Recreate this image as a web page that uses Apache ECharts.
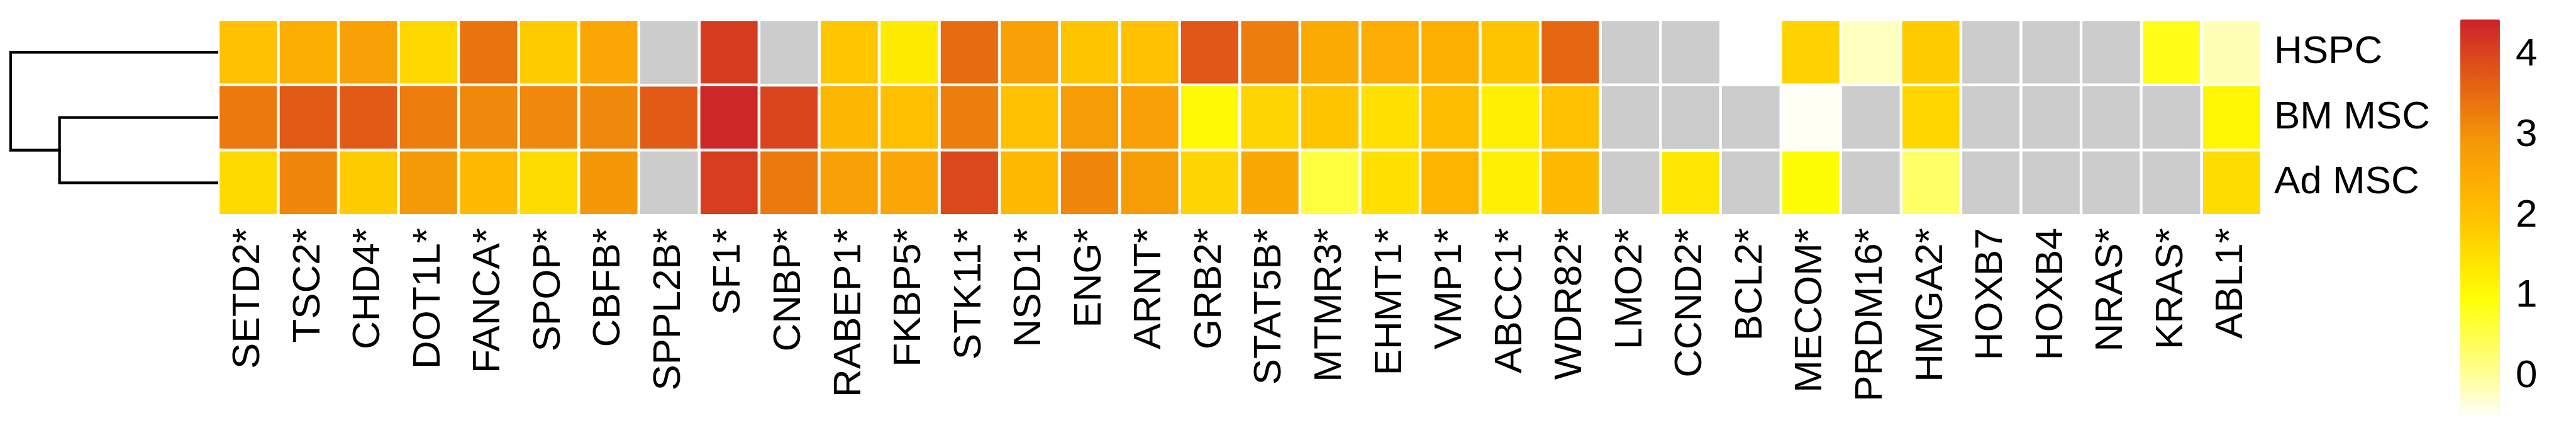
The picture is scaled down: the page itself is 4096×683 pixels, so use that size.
<!DOCTYPE html>
<html><head><meta charset="utf-8">
<script src="https://cdn.jsdelivr.net/npm/echarts@6/dist/echarts.min.js"></script>
<style>html,body{margin:0;padding:0;background:#fff}#chart{width:4096px;height:683px}</style>
</head><body><div id="chart"></div>
<script>
// ---- data ----
const genes = ['SETD2*','TSC2*','CHD4*','DOT1L*','FANCA*','SPOP*','CBFB*','SPPL2B*','SF1*','CNBP*','RABEP1*','FKBP5*','STK11*','NSD1*','ENG*','ARNT*','GRB2*','STAT5B*','MTMR3*','EHMT1*','VMP1*','ABCC1*','WDR82*','LMO2*','CCND2*','BCL2*','MECOM*','PRDM16*','HMGA2*','HOXB7','HOXB4','NRAS*','KRAS*','ABL1*'];
const samples = ['HSPC','BM MSC','Ad MSC'];
// null = not available (grey cell)
const valuesHSPC = [2.0,2.41,2.73,1.62,3.41,1.81,2.59,null,4.12,null,1.9,1.3,3.51,2.73,1.94,2.0,3.77,3.28,2.5,2.45,2.36,1.94,3.56,null,null,-0.53,1.71,-0.2,1.81,null,null,null,0.83,-0.15];
const valuesBM   = [3.33,3.74,3.74,3.28,3.13,3.13,3.13,3.74,4.38,4.0,2.23,2.05,3.28,2.0,2.82,2.73,1.06,1.68,1.94,1.49,2.09,1.24,2.0,null,null,null,-0.47,null,1.65,null,null,null,null,1.11];
const valuesAd   = [1.59,3.15,1.81,2.86,2.18,1.56,2.9,null,4.1,3.33,2.73,2.59,3.97,2.18,3.15,2.8,1.68,2.55,0.58,1.49,2.27,1.21,2.18,null,1.37,null,1.0,null,0.33,null,null,null,null,1.56];
const colorbarTicks = [0,1,2,3,4];
const colorRange = [-0.53, 4.44];
const palette = ['#FFFFFF','#FFFF9F','#FFFF52','#FFFF06','#FFE200','#FFC300','#FCAC02','#F49608','#E9700F','#DC4A1B','#CC2229'];
// row dendrogram: merges of [leaf/node a, leaf/node b, height]
const dendroMerges = [[1, 2, 0.763], [0, 'n0', 1.0]];
const naColor = '#CCCCCC';

// ---- build ----
const S = 0.758;
const rows = [valuesHSPC, valuesBM, valuesAd];
const heatData = [], naData = [];
rows.forEach((arr, r) => arr.forEach((v, c) => {
  if (v === null) naData.push([c, r, 0]); else heatData.push([c, r, v]);
}));
// dendrogram segments
const nodes = {};
const pos = k => (typeof k === 'number') ? {y: k, h: 0} : nodes[k];
const dendroSeries = dendroMerges.map((m, i) => {
  const a = pos(m[0]), b = pos(m[1]), h = m[2];
  nodes['n' + i] = {y: (a.y + b.y) / 2, h: h};
  return {
    type: 'line', xAxisIndex: 1, yAxisIndex: 1, symbol: 'none', silent: true,
    lineStyle: {color: '#000', width: 4.3, cap: 'square', join: 'miter'},
    data: [[a.h, a.y], [h, a.y], [h, b.y], [b.h, b.y]]
  };
});

const font = "'Liberation Sans', Arial, Helvetica, sans-serif";
const fs = 62;
const gTop = 41.3 * S, gH = 410 * S;
const option = {
  backgroundColor: '#fff',
  animation: false,
  grid: [
    {left: 458 * S, top: gTop, width: (4744 - 458) * S, height: gH},
    {left: 22.3 * S, top: gTop, width: (455 - 22.3) * S, height: gH},
    {left: 5161 * S, top: 41 * S, width: 83 * S, height: 837 * S}
  ],
  xAxis: [
    {type: 'category', gridIndex: 0, data: genes, position: 'bottom',
     axisLine: {show: false}, axisTick: {show: false}, splitLine: {show: false},
     axisLabel: {interval: 0, rotate: 90, margin: 20, fontSize: fs, color: '#000', fontFamily: font}},
    {type: 'value', gridIndex: 1, min: 0, max: 1, inverse: true, show: false},
    {type: 'value', gridIndex: 2, show: false}
  ],
  yAxis: [
    {type: 'category', gridIndex: 0, data: samples, inverse: true, position: 'right',
     axisLine: {show: false}, axisTick: {show: false}, splitLine: {show: false},
     axisLabel: {margin: 20, fontSize: fs, color: '#000', fontFamily: font}},
    {type: 'value', gridIndex: 1, min: -0.5, max: 2.5, inverse: true, show: false},
    {type: 'value', gridIndex: 2, min: colorRange[0], max: colorRange[1], position: 'right',
     axisLine: {show: false}, axisTick: {show: false}, splitLine: {show: false},
     axisLabel: {customValues: colorbarTicks, margin: 25, fontSize: fs, color: '#000', fontFamily: font}}
  ],
  visualMap: {
    type: 'continuous', seriesIndex: 0, min: colorRange[0], max: colorRange[1],
    calculable: false, hoverLink: false, padding: 0, text: null,
    left: 5161 * S, top: 41 * S, itemWidth: 83 * S, itemHeight: 837 * S,
    inRange: {color: palette}
  },
  series: [
    {type: 'heatmap', xAxisIndex: 0, yAxisIndex: 0, data: heatData,
     itemStyle: {borderColor: '#fff', borderWidth: 4.5}, emphasis: {disabled: true}},
    {type: 'heatmap', xAxisIndex: 0, yAxisIndex: 0, data: naData,
     itemStyle: {color: naColor, borderColor: '#fff', borderWidth: 4.5}, emphasis: {disabled: true}}
  ].concat(dendroSeries)
};
const chart = echarts.init(document.getElementById('chart'), null, {renderer: 'canvas'});
chart.setOption(option);
</script>
</body></html>
